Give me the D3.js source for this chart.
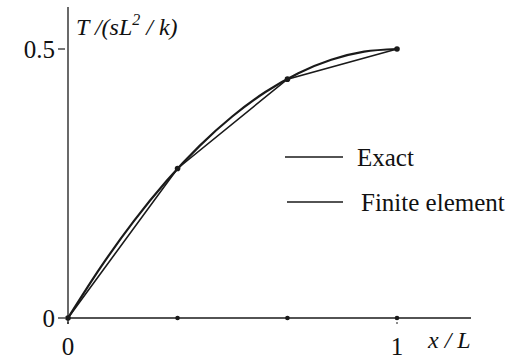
<!DOCTYPE html>
<html>
<head>
<meta charset="utf-8">
<script src="https://cdn.jsdelivr.net/npm/d3@7"></script>
<style>
body { margin: 0; background: #fff; }
text { font-family: "Liberation Serif", "DejaVu Serif", serif; fill: #111; }
</style>
</head>
<body>
<svg id="chart" width="518" height="359"></svg>
<script>
// exact solution
var exactX = [0, 0.1, 0.2, 0.3, 0.4, 0.5, 0.6, 0.7, 0.8, 0.9, 1];
var exactY = [0, 0.095, 0.18, 0.255, 0.32, 0.375, 0.42, 0.455, 0.48, 0.495, 0.5];
// finite element nodes
var feX = [0, 0.333, 0.667, 1];
var feY = [0, 0.278, 0.444, 0.5];
var xTicks = [0, 1];
var yTicks = [0, 0.5];
var legendNames = ["Exact", "Finite element"];

var svg = d3.select("#chart");
var x = d3.scaleLinear().domain([0, 1]).range([68, 397]);
var y = d3.scaleLinear().domain([0, 0.5]).range([318, 49]);
var ink = "#1a1a1a";

//axes
svg.append("line").attr("x1", 68).attr("x2", 68).attr("y1", 7).attr("y2", 324)
    .style("stroke", ink).style("stroke-width", 1.3);
svg.append("line").attr("x1", 68).attr("x2", 471).attr("y1", 318).attr("y2", 318)
    .style("stroke", ink).style("stroke-width", 1.6);

svg.selectAll(".ytick").data(yTicks).enter().append("line")
    .attr("x1", 58).attr("x2", 65)
    .attr("y1", d => y(d)).attr("y2", d => y(d))
    .style("stroke", ink).style("stroke-width", 1.2);
svg.selectAll(".ylab").data(yTicks).enter().append("text")
    .attr("x", 55).attr("y", d => y(d) + 9)
    .attr("text-anchor", "end").style("font-size", "25px")
    .text(d => d === 0 ? "0" : "0.5");
svg.selectAll(".xtick").data(xTicks).enter().append("line")
    .attr("x1", d => x(d)).attr("x2", d => x(d))
    .attr("y1", 318).attr("y2", 326)
    .style("stroke", ink).style("stroke-width", 1).style("stroke-dasharray", "2,2");
svg.selectAll(".xlab").data(xTicks).enter().append("text")
    .attr("x", d => x(d)).attr("y", 355)
    .attr("text-anchor", "middle").style("font-size", "25px")
    .text(d => d);

//axis titles
var yt = svg.append("text").attr("x", 76).attr("y", 35).style("font-size", "24px").style("font-style", "italic");
yt.append("tspan").text("T /(sL");
yt.append("tspan").attr("dy", -10).style("font-size", "16px").text("2");
yt.append("tspan").attr("dy", 10).text(" / k)");
svg.append("text").attr("x", 428).attr("y", 348).style("font-size", "24px").style("font-style", "italic").text("x / L");

//curves
var line = d3.line().x(d => x(d[0])).y(d => y(d[1]));
var exactPts = exactX.map((v, i) => [v, exactY[i]]);
var fePts = feX.map((v, i) => [v, feY[i]]);
svg.append("path").attr("d", line.curve(d3.curveMonotoneX)(exactPts))
    .style("fill", "none").style("stroke", ink).style("stroke-width", 2.2);
svg.append("path").attr("d", d3.line().x(d => x(d[0])).y(d => y(d[1]))(fePts))
    .style("fill", "none").style("stroke", ink).style("stroke-width", 1.6);

svg.selectAll(".node").data(fePts).enter().append("circle")
    .attr("cx", d => x(d[0])).attr("cy", d => y(d[1])).attr("r", 2.8).style("fill", ink);
svg.selectAll(".xnode").data(fePts.slice(1)).enter().append("circle")
    .attr("cx", d => x(d[0])).attr("cy", 318).attr("r", 2.3).style("fill", ink);

//legend
var lg = svg.selectAll(".lg").data(legendNames).enter().append("g")
    .attr("transform", (d, i) => "translate(0," + (157 + i * 45) + ")");
lg.append("line").attr("x1", (d, i) => 285 + i * 2).attr("x2", 343).attr("y1", 0).attr("y2", 0)
    .style("stroke", ink).style("stroke-width", 1.6);
lg.append("text").attr("x", (d, i) => 357 + i * 4).attr("y", 9)
    .style("font-size", "25px").text(d => d);
</script>
</body>
</html>
